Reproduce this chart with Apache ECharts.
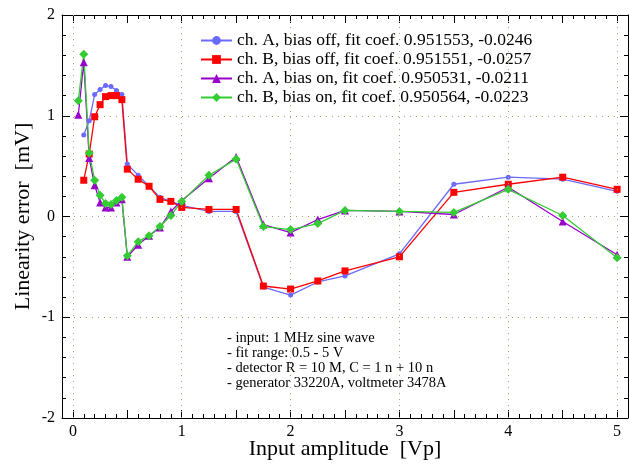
<!DOCTYPE html>
<html>
<head>
<meta charset="utf-8">
<script src="https://cdn.jsdelivr.net/npm/echarts@6/dist/echarts.min.js"></script>
<style>
  html, body { margin: 0; padding: 0; background: #fff; }
  #main { width: 630px; height: 464px; }
</style>
</head>
<body>
<div id="main"></div>
<script>
// amplitudes [Vp]
var ampA = [0.1, 0.15, 0.2, 0.25, 0.3, 0.35, 0.4, 0.45, 0.5, 0.6, 0.7, 0.8, 0.9, 1.0,
            1.25, 1.5, 1.75, 2, 2.25, 2.5, 3, 3.5, 4, 4.5, 5];
var ampB = [0.05].concat(ampA);

// linearity error [mV]
var chAoff = [0.81, 0.95, 1.21, 1.26, 1.30, 1.29, 1.25, 1.21, 0.52, 0.41, 0.30, 0.19, 0.15, 0.11,
              0.05, 0.05, -0.70, -0.78, -0.65, -0.59, -0.37, 0.32, 0.39, 0.37, 0.25];
var chBoff = [0.36, 0.62, 0.99, 1.11, 1.19, 1.20, 1.20, 1.16, 0.47, 0.37, 0.30, 0.17, 0.15, 0.09,
              0.07, 0.07, -0.69, -0.72, -0.64, -0.54, -0.40, 0.24, 0.32, 0.39, 0.27];
var chAon = [1.01, 1.53, 0.58, 0.31, 0.14, 0.09, 0.09, 0.14, 0.17, -0.40, -0.28, -0.19, -0.11, 0.05,
             0.16, 0.38, 0.59, -0.08, -0.16, -0.03, 0.06, 0.05, 0.02, 0.29, -0.05, -0.38];
var chBon = [1.15, 1.61, 0.63, 0.36, 0.21, 0.13, 0.12, 0.16, 0.19, -0.39, -0.25, -0.19, -0.10, 0.01,
             0.15, 0.41, 0.57, -0.10, -0.13, -0.07, 0.06, 0.05, 0.04, 0.27, 0.01, -0.41];

var seriesNames = [
  'ch. A, bias off, fit coef. 0.951553, -0.0246',
  'ch. B, bias off, fit coef. 0.951551, -0.0257',
  'ch. A, bias on, fit coef. 0.950531, -0.0211',
  'ch. B, bias on, fit coef. 0.950564, -0.0223'
];

var xLabels = [0, 1, 2, 3, 4, 5];
var xHalfTicks = [0, 0.5, 1, 1.5, 2, 2.5, 3, 3.5, 4, 4.5, 5];
var xSmallTicks = [];
for (var i = 0; i <= 50; i++) xSmallTicks.push(i / 10);

var notes = [
  '- input: 1 MHz sine wave',
  '- fit range: 0.5 - 5 V',
  '- detector R = 10 M, C = 1 n + 10 n',
  '- generator 33220A, voltmeter 3478A'
];

var serif = 'Liberation Serif';
var gridDot = { type: [1, 5], color: '#a8a070', width: 1 };

function zip(xs, ys) {
  return xs.map(function (x, k) { return [x, ys[k]]; });
}

function xAx(pos, ticks, len, withLine, withLabels) {
  return {
    type: 'value', position: pos, min: -0.1, max: 5.1,
    axisLine: { show: withLine, onZero: false, lineStyle: { color: '#000', width: 1 } },
    axisTick: { show: true, inside: true, length: len, customValues: ticks,
                lineStyle: { color: '#000', width: 1 } },
    axisLabel: withLabels ? { customValues: xLabels, color: '#000', fontSize: 16,
                              fontFamily: serif, margin: 6 } : { show: false },
    splitLine: { show: false }
  };
}

function yAx(pos, withLabels) {
  return {
    type: 'value', position: pos, min: -2, max: 2, interval: 1,
    axisLine: { show: true, onZero: false, lineStyle: { color: '#000', width: 1 } },
    axisTick: { inside: true, length: 8, lineStyle: { color: '#000', width: 1 } },
    minorTick: { show: true, splitNumber: 5, length: 4, lineStyle: { color: '#000', width: 1 } },
    axisLabel: withLabels ? { color: '#000', fontSize: 16, fontFamily: serif, margin: 7 } : { show: false },
    splitLine: { show: withLabels, lineStyle: gridDot }
  };
}

var bottomAxis = xAx('bottom', xSmallTicks, 4, true, true);
bottomAxis.name = 'Input amplitude  [Vp]';
bottomAxis.nameLocation = 'middle';
bottomAxis.nameGap = 20;
bottomAxis.nameMoveOverlap = false;
bottomAxis.nameTextStyle = { color: '#000', fontSize: 22, fontFamily: serif };

var leftAxis = yAx('left', true);
leftAxis.name = 'Linearity error  [mV]';
leftAxis.nameLocation = 'middle';
leftAxis.nameGap = 28;
leftAxis.nameMoveOverlap = false;
leftAxis.nameTextStyle = { color: '#000', fontSize: 22, fontFamily: serif };

function lineSeries(name, xs, ys, color, symbol, size) {
  return {
    name: name, type: 'line', xAxisIndex: 0, yAxisIndex: 0,
    data: zip(xs, ys),
    symbol: symbol, symbolSize: size, showSymbol: true,
    itemStyle: { color: color },
    lineStyle: { color: color, width: 1.3 },
    z: 3
  };
}

var myChart = echarts.init(document.getElementById('main'));

var option = {
  animation: false,
  backgroundColor: '#fff',
  textStyle: { fontFamily: serif },
  grid: { left: 62, right: 2, top: 15, bottom: 46, outerBoundsMode: 'none' },
  legend: {
    orient: 'vertical', left: 200, top: 31, padding: 0,
    itemWidth: 31, itemHeight: 11, itemGap: 0,
    textStyle: { color: '#000', fontSize: 17.5, fontFamily: serif, lineHeight: 19 },
    data: seriesNames
  },
  xAxis: [
    bottomAxis,
    xAx('bottom', xHalfTicks, 8, false, false),
    xAx('top', xSmallTicks, 4, true, false),
    xAx('top', xHalfTicks, 8, false, false)
  ],
  yAxis: [leftAxis, yAx('right', false)],
  graphic: [{
    type: 'text', left: 227, top: 331,
    style: { text: notes.join('\n'), fill: '#000', fontSize: 14.5, fontFamily: serif, lineHeight: 15 }
  }],
  series: [
    {
      type: 'line', data: [], z: 1, silent: true,
      markLine: {
        silent: true, symbol: 'none', label: { show: false },
        lineStyle: gridDot,
        data: xLabels.map(function (v) { return { xAxis: v }; })
      }
    },
    lineSeries(seriesNames[0], ampA, chAoff, '#6a6aff', 'circle', 5),
    lineSeries(seriesNames[1], ampA, chBoff, '#ff0000', 'rect', 7),
    lineSeries(seriesNames[2], ampB, chAon, '#9900cc', 'triangle', 8),
    lineSeries(seriesNames[3], ampB, chBon, '#33cc33', 'diamond', 9)
  ]
};
myChart.setOption(option);
</script>
</body>
</html>
